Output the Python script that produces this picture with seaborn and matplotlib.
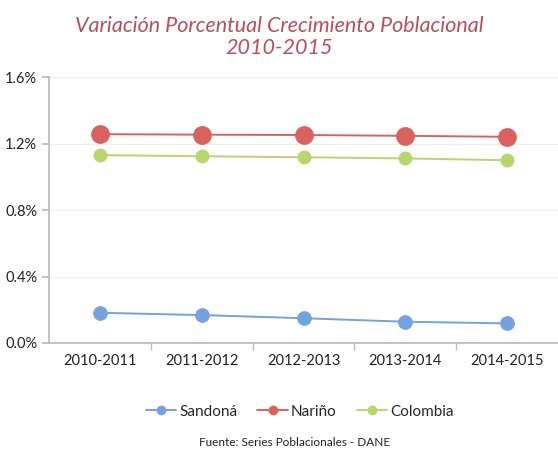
import numpy as np
import pandas as pd
import matplotlib
matplotlib.use("Agg")
import matplotlib.pyplot as plt
import seaborn as sns
from matplotlib.ticker import FuncFormatter, FixedLocator
from matplotlib.lines import Line2D

periods = ["2010-2011", "2011-2012", "2012-2013", "2013-2014", "2014-2015"]
sandona = [0.182, 0.168, 0.149, 0.128, 0.118]
narino = [1.257, 1.254, 1.252, 1.247, 1.241]
colombia = [1.131, 1.124, 1.118, 1.111, 1.100]
series_names = ["Sandoná", "Nariño", "Colombia"]
colors = {"Sandoná": "#73a2de", "Nariño": "#d9625e", "Colombia": "#b7d66c"}
yticks = [0.0, 0.4, 0.8, 1.2, 1.6]

rows = []
for name, vals in zip(series_names, [sandona, narino, colombia]):
    for i, (p, v) in enumerate(zip(periods, vals)):
        rows.append({"periodo": p, "x": i, "valor": v, "serie": name})
df = pd.DataFrame(rows)

sns.set_theme(style="white")
plt.rcParams["font.family"] = ["Lato", "DejaVu Sans"]

fig = plt.figure(figsize=(5.58, 4.54), dpi=100)
ax = fig.add_axes([0.088, 0.2445, 0.912, 0.5855])

sizes = {"Sandoná": 10, "Nariño": 13, "Colombia": 9.5}
for name in series_names:
    sub = df[df["serie"] == name]
    sns.lineplot(data=sub, x="x", y="valor", ax=ax, color=colors[name],
                 marker="o", markersize=sizes[name], markeredgecolor=colors[name],
                 markeredgewidth=0.5, linewidth=1.4, label=name, legend=False)

ax.set_xlim(-0.5, len(periods) - 0.5)
ax.set_ylim(0, 1.6)
ax.set_yticks(yticks)
ax.yaxis.set_major_formatter(FuncFormatter(lambda v, _: f"{v:.1f}%"))
ax.set_xticks(range(len(periods)))
ax.set_xticklabels(periods)
ax.xaxis.set_minor_locator(FixedLocator([i + 0.5 for i in range(len(periods) - 1)]))
ax.tick_params(axis="x", which="major", length=0, labelsize=10.5, pad=8, colors="#222222")
ax.tick_params(axis="x", which="minor", length=5, color="#bbbbbb", bottom=True)
ax.tick_params(axis="y", which="major", length=5, color="#bbbbbb", left=True, labelsize=10.5, colors="#222222")
ax.set_xlabel("")
ax.set_ylabel("")
ax.grid(axis="y", color="#eeeeee", linewidth=0.8)
for s in ["top", "right"]:
    ax.spines[s].set_visible(False)
ax.spines["left"].set_color("#bbbbbb")
ax.spines["bottom"].set_color("#bbbbbb")

fig.text(0.50, 0.943, "Variación Porcentual Crecimiento Poblacional", ha="center", va="center",
         fontsize=15.5, style="italic", color="#b94f59")
fig.text(0.50, 0.895, "2010-2015", ha="center", va="center",
         fontsize=15.5, style="italic", color="#b94f59")

hs = [Line2D([0], [0], color=colors[n], marker="o", markersize=6, linewidth=1.4) for n in series_names]
fig.legend(hs, series_names, loc="center", bbox_to_anchor=(0.537, 0.093), ncol=3, frameon=False,
           fontsize=11, handlelength=2.0, handletextpad=0.2, columnspacing=1.3)

fig.text(0.527, 0.026, "Fuente: Series Poblacionales - DANE", ha="center", va="center",
         fontsize=8.5, color="#222222")

fig.savefig("out.png", dpi=100)
